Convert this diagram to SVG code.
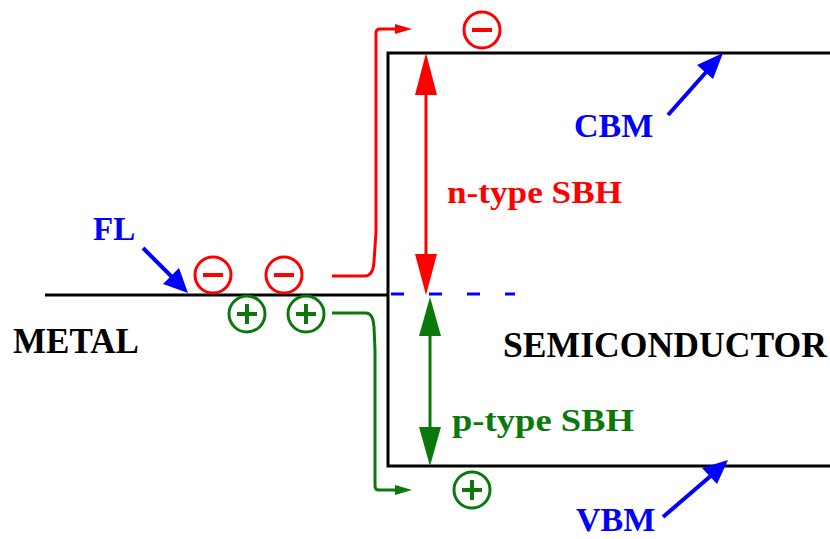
<svg xmlns="http://www.w3.org/2000/svg" width="830" height="539" viewBox="0 0 830 539">
<style>
.band{stroke:#000;stroke-width:3;fill:none}
.lbl{font-family:"Liberation Serif","Times New Roman",serif;font-weight:bold}
.red{stroke:#f00;fill:none;stroke-width:3}
.grn{stroke:#0b780b;fill:none;stroke-width:3}
.blu{stroke:#00f;fill:none;stroke-width:4}
.bar{stroke-width:4}
</style>
<rect width="830" height="539" fill="#fff"/>
<g id="metal">
<line class="band" x1="45" y1="295" x2="389" y2="295"/>
<text class="lbl" x="13" y="353" font-size="35" fill="#000">METAL</text>
</g>
<g id="semiconductor">
<path class="band" d="M830,53 H388 V466 H830"/>
<line x1="391" y1="294" x2="515" y2="294" stroke="#00f" stroke-width="3" stroke-dasharray="13 25"/>
<text class="lbl" x="503" y="357" font-size="35" fill="#000" textLength="324" lengthAdjust="spacingAndGlyphs">SEMICONDUCTOR</text>
</g>
<g id="charges">
<g class="red">
<circle cx="213" cy="275" r="18"/><line class="bar" x1="203" y1="275" x2="223" y2="275"/>
<circle cx="284" cy="275" r="18"/><line class="bar" x1="274" y1="275" x2="294" y2="275"/>
<circle cx="482" cy="30" r="18"/><line class="bar" x1="472" y1="30" x2="492" y2="30"/>
</g>
<g class="grn">
<circle cx="247" cy="314" r="18"/><path class="bar" d="M237,314 H257 M247,304 V324"/>
<circle cx="306" cy="314" r="18"/><path class="bar" d="M296,314 H316 M306,304 V324"/>
<circle cx="472" cy="490" r="18"/><path class="bar" d="M462,490 H482 M472,480 V500"/>
</g>
</g>
<g id="labels">
<text class="lbl" x="447" y="203" font-size="32" fill="#f00" textLength="175" lengthAdjust="spacingAndGlyphs">n-type SBH</text>
<text class="lbl" x="452" y="431" font-size="32" fill="#0b780b" textLength="182" lengthAdjust="spacingAndGlyphs">p-type SBH</text>
<text class="lbl" x="574" y="137" font-size="34" fill="#00f">CBM</text>
<text class="lbl" x="576" y="531" font-size="34" fill="#00f">VBM</text>
<text class="lbl" x="93" y="240" font-size="33" fill="#00f">FL</text>
</g>
<g id="connectors">
<line class="red" x1="426" y1="92" x2="426" y2="256"/>
<polygon points="426,53 415,95 437,95" fill="#f00"/>
<polygon points="426,295 415,254 437,254" fill="#f00"/>
<line class="grn" x1="430" y1="334" x2="430" y2="429"/>
<polygon points="430,297 419,336 441,336" fill="#0b780b"/>
<polygon points="430,466 419,427 441,427" fill="#0b780b"/>
<path class="red" d="M332,276 H365 Q373,276 374,262 L376,232 V33 Q376,29 380,29 H397"/>
<polygon points="395,24 412,29 395,34" fill="#f00"/>
<path class="grn" d="M332,313 H366 Q373,313 374,327 L375,350 V486 Q375,490 379,490 H397"/>
<polygon points="395,485 412,490 395,495" fill="#0b780b"/>
<line class="blu" x1="143" y1="248" x2="176" y2="281"/>
<polygon points="188,293 163,284 179,268" fill="#00f"/>
<line class="blu" x1="668" y1="115" x2="708" y2="70"/>
<polygon points="723,53 713,79 697,65" fill="#00f"/>
<line class="blu" x1="663" y1="517" x2="713" y2="474"/>
<polygon points="728,460 717,484 702,468" fill="#00f"/>
</g>
</svg>
